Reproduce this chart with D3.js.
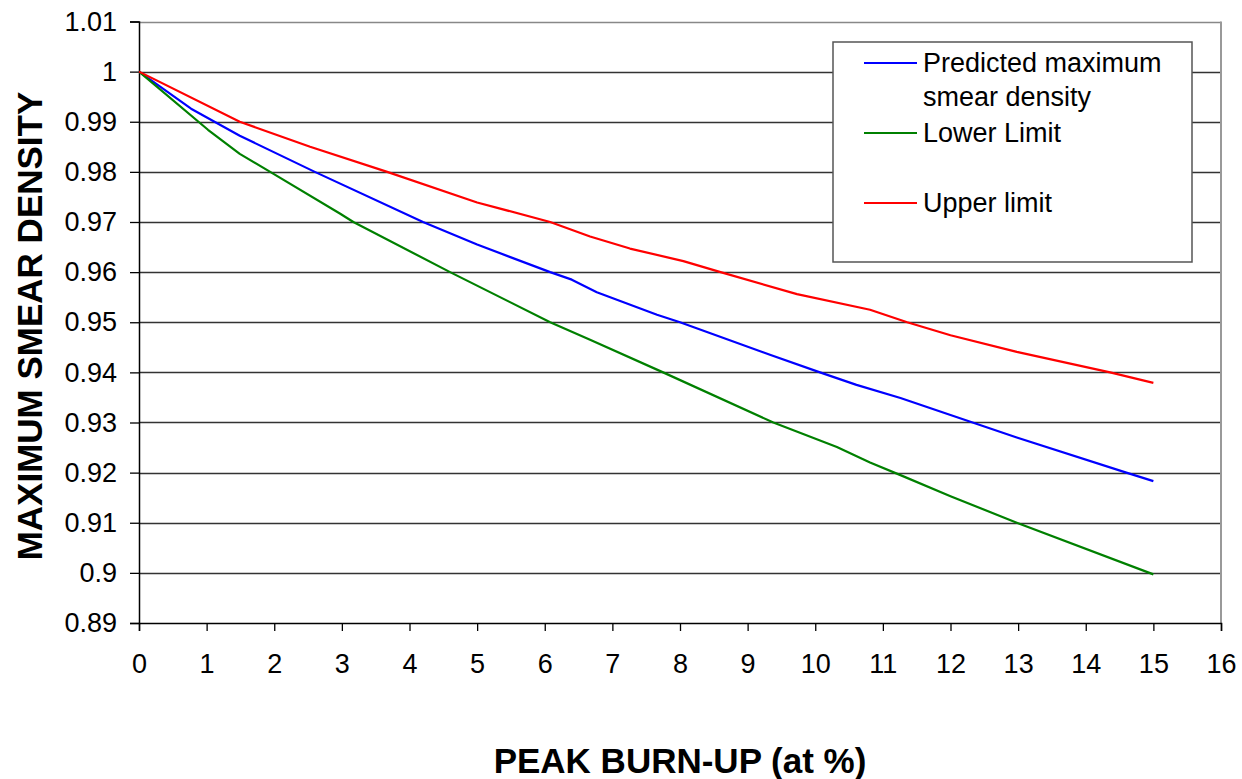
<!DOCTYPE html>
<html><head><meta charset="utf-8">
<script src="https://cdn.jsdelivr.net/npm/d3@7/dist/d3.min.js"></script>
<style>body{margin:0;background:#fff}svg{display:block}text{font-family:"Liberation Sans",Arial,sans-serif}</style>
</head><body><svg id="c" width="1242" height="779"></svg>
<script>
const xTicks = d3.range(0, 17, 1);
const yTicks = [0.89,0.9,0.91,0.92,0.93,0.94,0.95,0.96,0.97,0.98,0.99,1,1.01];
const yTickLabels = ["0.89","0.9","0.91","0.92","0.93","0.94","0.95","0.96","0.97","0.98","0.99","1","1.01"];

const predictedX = [0,0.77,1.49,2.6,4.2,5.0,6.08,6.4,6.77,7.66,8.0,9.33,10.07,10.61,11.26,12.0,12.98,14.6,15];
const predictedY = [1,0.9926,0.9872,0.98,0.97,0.9655,0.96,0.9585,0.956,0.9515,0.95,0.9435,0.94,0.9375,0.9349,0.9315,0.927,0.92,0.9183];

const lowerX = [0,1.02,1.49,1.94,2.97,3.17,4.6,6.08,6.67,7.75,9.38,10.32,10.81,11.26,12.0,12.98,15];
const lowerY = [1,0.9884,0.9836,0.98,0.9717,0.97,0.96,0.95,0.9465,0.94,0.93,0.9251,0.922,0.9195,0.9153,0.91,0.8997];

const upperX = [0,1.49,2.53,3.67,5.0,6.08,6.67,7.26,8.05,8.6,9.73,10.81,11.36,12.0,12.98,14.36,15];
const upperY = [1,0.99,0.985,0.98,0.9739,0.970,0.9671,0.9647,0.9622,0.96,0.9556,0.9525,0.95,0.9474,0.9441,0.94,0.9379];

const seriesNames = ["Predicted maximum|smear density","Lower Limit","Upper limit"];
const seriesColors = ["#0000ff","#008000","#ff0000"];

const svg = d3.select("#c");
const L=139, R=1221, T=21.5, B=623;
const x = d3.scaleLinear().domain([0,16]).range([L,R]);
const y = d3.scaleLinear().domain([0.89,1.01]).range([B,T]);

// gridlines
svg.append("g").selectAll("line").data(yTicks.filter(v=>v>0.8905)).join("line")
  .attr("x1",L).attr("x2",R).attr("y1",d=>Math.round(y(d))+0.5).attr("y2",d=>Math.round(y(d))+0.5)
  .attr("stroke",(d,i)=> d>1.005 ? "#888" : "#333").attr("stroke-width",1.3);
// right border
svg.append("line").attr("x1",R).attr("x2",R).attr("y1",T).attr("y2",B).attr("stroke","#999").attr("stroke-width",2);

// axes
const xAxis = d3.axisBottom(x).tickValues(xTicks).tickSize(8).tickPadding(23).tickFormat(d3.format("d"));
const gx = svg.append("g").attr("transform",`translate(0,${B})`).call(xAxis);
gx.select(".domain").attr("stroke","#000").attr("stroke-width",1.5);
gx.selectAll(".tick line").attr("stroke","#000").attr("stroke-width",1.3);
gx.selectAll(".tick text").attr("font-size",27).attr("fill","#000").attr("font-family","'Liberation Sans',Arial,sans-serif");

const yAxis = d3.axisLeft(y).tickValues(yTicks).tickSize(9).tickPadding(13).tickFormat((d,i)=>yTickLabels[i]);
const gy = svg.append("g").attr("transform",`translate(${L},0)`).call(yAxis);
gy.select(".domain").attr("stroke","#000").attr("stroke-width",1.5);
gy.selectAll(".tick line").attr("stroke","#000").attr("stroke-width",1.3);
gy.selectAll(".tick text").attr("font-size",27).attr("fill","#000").attr("font-family","'Liberation Sans',Arial,sans-serif");

// lines
const series = [[predictedX,predictedY],[lowerX,lowerY],[upperX,upperY]];
const line = d3.line().x(d=>x(d[0])).y(d=>y(d[1]));
series.forEach((s,i)=>{
  const pts = s[0].map((v,j)=>[v,s[1][j]]);
  svg.append("path").datum(pts).attr("d",line).attr("fill","none")
    .attr("stroke",seriesColors[i]).attr("stroke-width",2.2).attr("stroke-linejoin","round");
});

// legend
const lg = svg.append("g");
lg.append("rect").attr("x",833).attr("y",42).attr("width",359).attr("height",220)
  .attr("fill","#fff").attr("stroke","#555").attr("stroke-width",1.5);
const legY = [63,133,203];
seriesNames.forEach((n,i)=>{
  lg.append("line").attr("x1",864).attr("x2",917).attr("y1",legY[i]).attr("y2",legY[i])
    .attr("stroke",seriesColors[i]).attr("stroke-width",2.2);
  n.split("|").forEach((t,k)=>{
    lg.append("text").attr("x",923).attr("y",legY[i]+k*34).attr("dy","0.35em")
      .attr("font-size",27).attr("fill","#000").text(t);
  });
});

// axis titles
svg.append("text").attr("x",680).attr("y",773).attr("text-anchor","middle")
  .attr("font-size",35).attr("font-weight","bold").attr("fill","#000")
  .text("PEAK BURN-UP (at %)");
svg.append("text").attr("transform","translate(42,326) rotate(-90)").attr("text-anchor","middle")
  .attr("font-size",35).attr("font-weight","bold").attr("fill","#000")
  .text("MAXIMUM SMEAR DENSITY");
</script></body></html>
